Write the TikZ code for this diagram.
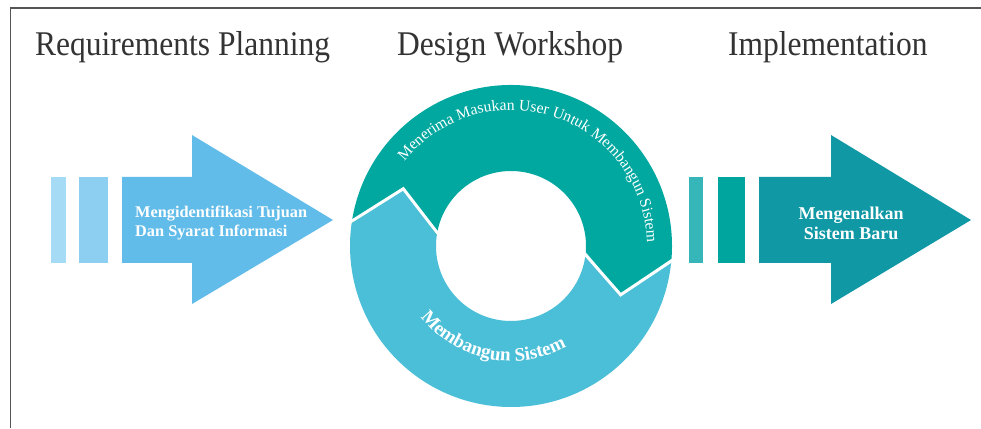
\documentclass[tikz,border=0pt]{standalone}
\usepackage{fontspec}
\setmainfont{Liberation Serif}
\usetikzlibrary{decorations.text}
\definecolor{lbarA}{HTML}{A6DBF5}
\definecolor{lbarB}{HTML}{8CCFF1}
\definecolor{larrow}{HTML}{62BCE9}
\definecolor{tealseg}{HTML}{00A8A0}
\definecolor{blueseg}{HTML}{4BBFD7}
\definecolor{rbarA}{HTML}{36B6B8}
\definecolor{rbarB}{HTML}{00A69E}
\definecolor{rarrow}{HTML}{1098A5}
\definecolor{titlegray}{HTML}{333333}
\definecolor{framegray}{HTML}{555555}
\newcommand{\tallish}[1]{\scalebox{1}[1.1]{#1}}
\begin{document}
\begin{tikzpicture}[x=1pt,y=1pt,
  titletext/.style={anchor=base west,inner sep=0pt,text=titlegray,font=\fontsize{31.5}{36}\selectfont},
  arrowtext/.style={inner sep=0pt,text=white,font=\bfseries\fontsize{16.3}{19}\selectfont},
  gapline/.style={draw=white,line width=3pt,line join=miter}]
\useasboundingbox (0,0) rectangle (981,428);
\fill[white] (0,0) rectangle (981,428);
% frame (left and top)
\draw[framegray,line width=1.5pt] (10.5,0) -- (10.5,420) -- (981,420);
% titles
\node[titletext] (t1) at (35,372) {\tallish{Requirements Planning}};
\node[titletext] (t2) at (397,372) {\tallish{Design Workshop}};
\node[titletext] (t3) at (728,372) {\tallish{Implementation}};
% left arrow
\fill[lbarA] (51,165) rectangle (66,251);
\fill[lbarB] (79,165) rectangle (108,251);
\fill[larrow] (122,165) -- (192,165) -- (192,124) -- (333,208) -- (192,293) -- (192,251) -- (122,251) -- cycle;
\node[arrowtext,anchor=west,align=left] (la) at (135,204.5) {Mengidentifikasi Tujuan\\Dan Syarat Informasi};
% right arrow
\fill[rbarA] (689,165) rectangle (703,251);
\fill[rbarB] (718,165) rectangle (745,251);
\fill[rarrow] (759,165) -- (831,165) -- (831,124) -- (971,208) -- (831,293) -- (831,251) -- (759,251) -- cycle;
\node[arrowtext,align=center,font=\bfseries\fontsize{18}{20}\selectfont] (ra) at (851,205) {Mengenalkan\\Sistem Baru};
% cycle
\begin{scope}[shift={(511,182)}]
\fill[blueseg] (-4.5:161pt) arc[start angle=-4.5,end angle=-188,radius=161pt]
  -- (152:122pt) -- (172:75pt) arc[start angle=-188,end angle=-4.5,radius=75pt]
  -- (-24:120pt) -- cycle;
\fill[tealseg] (172:161pt) arc[start angle=172,end angle=-4.5,radius=161pt]
  -- (-24:120pt) -- (-4.5:75pt) arc[start angle=-4.5,end angle=172,radius=75pt]
  -- (152:122pt) -- cycle;
\draw[gapline] (172:164pt) -- (152:122pt) -- (172:72pt);
\draw[gapline] (-4.5:164pt) -- (-24:120pt) -- (-4.5:72pt);
\path[decorate,decoration={text along path,text align=center,text color=white,
  text={|\fontsize{15.7}{18}\selectfont|Menerima Masukan User Untuk Membangun Sistem}}]
  (180:136pt) arc[start angle=180,end angle=-37,radius=136pt];
\path[decorate,decoration={text along path,text align=center,text color=white,
  text={|\bfseries\fontsize{19}{21}\selectfont|Membangun Sistem}}]
  (-170:115pt) arc[start angle=-170,end angle=-33,radius=115pt];
\end{scope}
\end{tikzpicture}
\end{document}
